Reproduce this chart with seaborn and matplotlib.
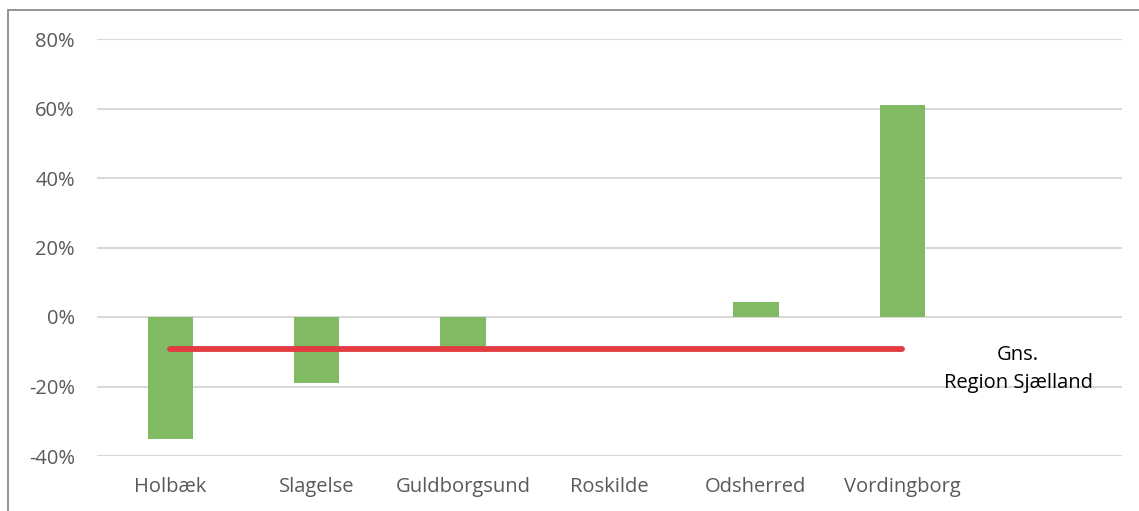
import matplotlib
matplotlib.use("Agg")
import matplotlib.pyplot as plt
from matplotlib.lines import Line2D
import seaborn as sns
import pandas as pd

categories = ["Holbæk", "Slagelse", "Guldborgsund", "Roskilde", "Odsherred", "Vordingborg"]
values = [-35.0, -18.9, -9.0, 0.0, 4.2, 61.0]
average = -9.3
average_label = "Gns.\nRegion Sjælland"
yticks = [-40, -20, 0, 20, 40, 60, 80]

sns.set_theme(style="white")
plt.rcParams["font.family"] = ["Open Sans", "DejaVu Sans"]

df = pd.DataFrame({"kommune": categories, "andel": values})

fig = plt.figure(figsize=(11.39, 5.11), dpi=100)
ax = fig.add_axes([97/1139, 1-456/511, (1122-97)/1139, (456-39)/511])

sns.barplot(data=df, x="kommune", y="andel", color="#80BA63", saturation=1,
            width=0.31, ax=ax, zorder=2, linewidth=0)
ax.plot([0, len(categories)-1], [average, average], color="#E23B41", lw=4.2,
        solid_capstyle="round", zorder=3)

ax.set_xlim(-0.5, len(categories) + 0.5)
ax.set_ylim(min(yticks), max(yticks))
ax.set_yticks(yticks)
ax.set_yticklabels([f"{v:.0f}%" for v in yticks])
ax.yaxis.grid(True, color="#D9D9D9", lw=1.5, zorder=0)
ax.set_axisbelow(True)
for s in ax.spines.values():
    s.set_visible(False)
ax.tick_params(axis="y", length=0, pad=16, labelsize=14.5, labelcolor="#595959")
ax.tick_params(axis="x", length=0, pad=15, labelsize=14.5, labelcolor="#595959")
ax.set_xlabel("")
ax.set_ylabel("")

ax.text(len(categories) - 0.21, -14.9, average_label, ha="center", va="center",
        fontsize=14.5, color="black", linespacing=1.55)

fig.add_artist(Line2D([8/1139, 1], [1-10/511, 1-10/511], color="#8C8C8C", lw=1.3,
                      transform=fig.transFigure))
fig.add_artist(Line2D([8/1139, 8/1139], [0, 1-10/511], color="#8C8C8C", lw=1.3,
                      transform=fig.transFigure))

fig.savefig("out.png", dpi=100, facecolor="white")
